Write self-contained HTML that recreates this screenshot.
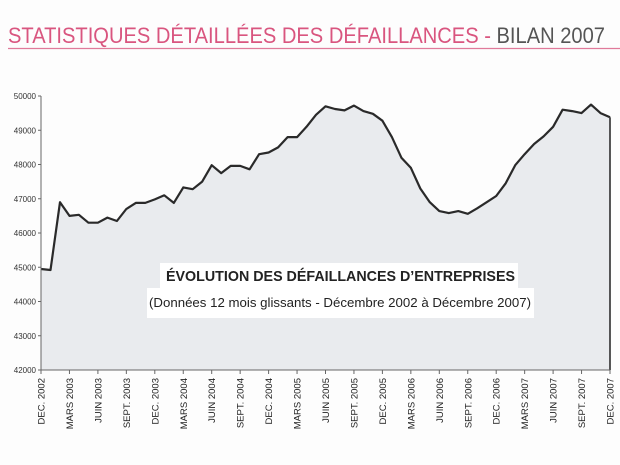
<!DOCTYPE html>
<html><head><meta charset="utf-8"><style>
html,body{margin:0;padding:0;background:#fdfdfd;}
svg{display:block;font-family:"Liberation Sans",sans-serif;}
</style></head><body>
<svg id="chart" width="620" height="465" viewBox="0 0 620 465" xmlns="http://www.w3.org/2000/svg">
<rect width="620" height="465" fill="#fdfdfd"/>
<text x="8" y="43" font-size="22" textLength="597" lengthAdjust="spacingAndGlyphs"><tspan fill="#d9557f">STATISTIQUES DÉTAILLÉES DES DÉFAILLANCES - </tspan><tspan fill="#555">BILAN 2007</tspan></text>
<line x1="8" y1="48.5" x2="620" y2="48.5" stroke="#e07a9a" stroke-width="1.2"/>
<g id="plot"></g>
<rect x="160" y="263" width="358" height="25" fill="#fff"/>
<text x="166" y="281" font-size="15" font-weight="bold" fill="#222" textLength="349" lengthAdjust="spacingAndGlyphs">ÉVOLUTION DES DÉFAILLANCES D’ENTREPRISES</text>
<rect x="147" y="288" width="387" height="30" fill="#fff"/>
<text x="149" y="307" font-size="13" fill="#222" textLength="382" lengthAdjust="spacingAndGlyphs">(Données 12 mois glissants - Décembre 2002 à Décembre 2007)</text>
</svg>
<script>
const values = [44950,44920,46900,46500,46530,46300,46300,46450,46350,46700,46880,46880,
46980,47100,46880,47330,47280,47500,47980,47750,47960,47960,47860,48300,
48350,48500,48800,48800,49100,49450,49700,49620,49580,49720,49560,49480,
49280,48800,48200,47900,47300,46900,46640,46580,46640,46560,46720,46900,
47080,47450,47980,48300,48600,48820,49100,49600,49560,49500,49750,49500,49380];
const tickLabels = ["DEC. 2002","MARS 2003","JUIN 2003","SEPT. 2003","DEC. 2003","MARS 2004","JUIN 2004","SEPT. 2004","DEC. 2004","MARS 2005","JUIN 2005","SEPT. 2005","DEC. 2005","MARS 2006","JUIN 2006","SEPT. 2006","DEC. 2006","MARS 2007","JUIN 2007","SEPT. 2007","DEC. 2007"];
const yTicks = [42000,43000,44000,45000,46000,47000,48000,49000,50000];
const yTickLabels = ["42000","43000","44000","45000","46000","47000","48000","49000","50000"];

const X0=41, X1=610, Y0=370, Y1=96, YMIN=42000, YMAX=50000;
const xs = i => X0 + (X1-X0)*i/(values.length-1);
const ys = v => Y0 - (v-YMIN)/(YMAX-YMIN)*(Y0-Y1);
const NS="http://www.w3.org/2000/svg";
const g=document.getElementById('plot');
function mk(t,a){const e=document.createElementNS(NS,t);for(const k in a)e.setAttribute(k,a[k]);g.appendChild(e);return e;}

let d="M"+xs(0)+","+Y0;
values.forEach((v,i)=>{d+=" L"+xs(i).toFixed(1)+","+ys(v).toFixed(1);});
d+=" L"+xs(values.length-1)+","+Y0+" Z";
const area=mk('path',{d:d,fill:'#e9ebee'});



let ld="";
values.forEach((v,i)=>{ld+=(i?" L":"M")+xs(i).toFixed(1)+","+ys(v).toFixed(1);});
const line=mk('path',{d:ld,fill:'none',stroke:'#2a2a2a','stroke-width':2.2,'stroke-linejoin':'round'});



const rl=mk('line',{x1:X1,y1:ys(values[values.length-1]),x2:X1,y2:Y0,stroke:'#444','stroke-width':1.8});



const ya=mk('line',{x1:X0,y1:Y1,x2:X0,y2:Y0,stroke:'#666','stroke-width':1});


const xa=mk('line',{x1:X0,y1:Y0,x2:X1,y2:Y0,stroke:'#666','stroke-width':1});



yTicks.forEach((v,i)=>{
  const y=ys(v);
  const tk=mk('line',{x1:X0-3,y1:y,x2:X0,y2:y,stroke:'#666'});
  
  
  const t=mk('text',{x:X0-5,y:y+3,'font-size':8,'text-anchor':'end',fill:'#333'});
  t.textContent=yTickLabels[i];
  
  
});

tickLabels.forEach((lab,i)=>{
  const x=xs(i*3);
  const tk=mk('line',{x1:x,y1:Y0,x2:x,y2:Y0+4,stroke:'#666'});
  
  
  const t=mk('text',{x:0,y:0,'font-size':9.5,'text-anchor':'end',fill:'#222',transform:`translate(${x+3.5},${Y0+8}) rotate(-90)`});
  t.textContent=lab;
  
  
});
</script>
</body></html>
